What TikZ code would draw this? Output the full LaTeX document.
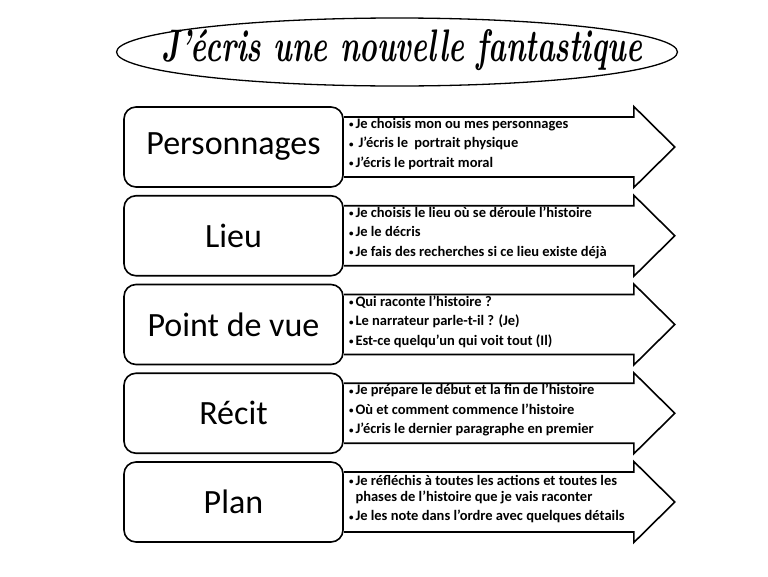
\documentclass[tikz,border=0pt]{standalone}
\usepackage{fontspec}
\usetikzlibrary{shapes.geometric}
\newfontfamily\calfont{Carlito}
\newcommand\bl{\makebox[6.5pt][l]{\raisebox{0.6pt}{\fontsize{9}{9}\selectfont •}}}
\newcommand\stagerow[4]{%
  \node[stagebox] (#1) at (233.5,#2) {#3};
  \draw[arrowshape] (#1.east) ++(0,-30) coordinate (#1a) -- ++(290,0) -- ++(0,-10.5)
     -- ++(41,40.5) coordinate (#1tip) -- ++(-41,40.5) -- ++(0,-10.5) -- ++(-290,0);
  \node[bullets] (#1t) at ([xshift=5pt,yshift=3pt]#1.east) {#4};
}
\begin{document}
\begin{tikzpicture}[x=1pt,y=-1pt,
  stagebox/.style={draw, line width=1.6pt, rounded corners=12pt, minimum width=219pt,
    minimum height=80pt, inner sep=0pt, font=\calfont\fontsize{34}{40}\selectfont},
  arrowshape/.style={draw, line width=1.6pt, line join=miter},
  bullets/.style={anchor=west, align=left, inner sep=0pt,
    font=\calfont\bfseries\fontsize{14.5}{16}\selectfont},
  titleshape/.style={draw, ellipse, line width=1.3pt, minimum width=561pt,
    minimum height=68pt, inner sep=0pt}]
\useasboundingbox (0,0) rectangle (768,576);
\node[titleshape] (title) at (397,52) {};
\node (titletext) at (402,50) {\resizebox{480pt}{32pt}{\bfseries\itshape J’écris une nouvelle fantastique}};
\stagerow{perso}{147}{Personnages}{\bl Je choisis mon ou mes personnages\\[3.5pt]
  \bl\hspace{3pt}J’écris le\hspace{3pt} portrait physique\\[3.5pt]
  \bl J’écris le portrait moral}
\stagerow{lieu}{235.75}{Lieu}{\bl Je choisis le lieu où se déroule l’histoire\\[3.5pt]
  \bl Je le décris\\[3.5pt]
  \bl Je fais des recherches si ce lieu existe déjà}
\stagerow{pdv}{324.5}{Point de vue}{\bl Qui raconte l’histoire ?\\[3.5pt]
  \bl Le narrateur parle-t-il ? (Je)\\[3.5pt]
  \bl Est-ce quelqu’un qui voit tout (Il)}
\stagerow{recit}{413.25}{Récit}{\bl Je prépare le début et la fin de l’histoire\\[3.5pt]
  \bl Où et comment commence l’histoire\\[3.5pt]
  \bl J’écris le dernier paragraphe en premier}
\stagerow{plan}{502}{Plan}{\bl Je réfléchis à toutes les actions et toutes les\\
  \hspace*{6.5pt}phases de l’histoire que je vais raconter\\[3.5pt]
  \bl Je les note dans l’ordre avec quelques détails}
\end{tikzpicture}
\end{document}
